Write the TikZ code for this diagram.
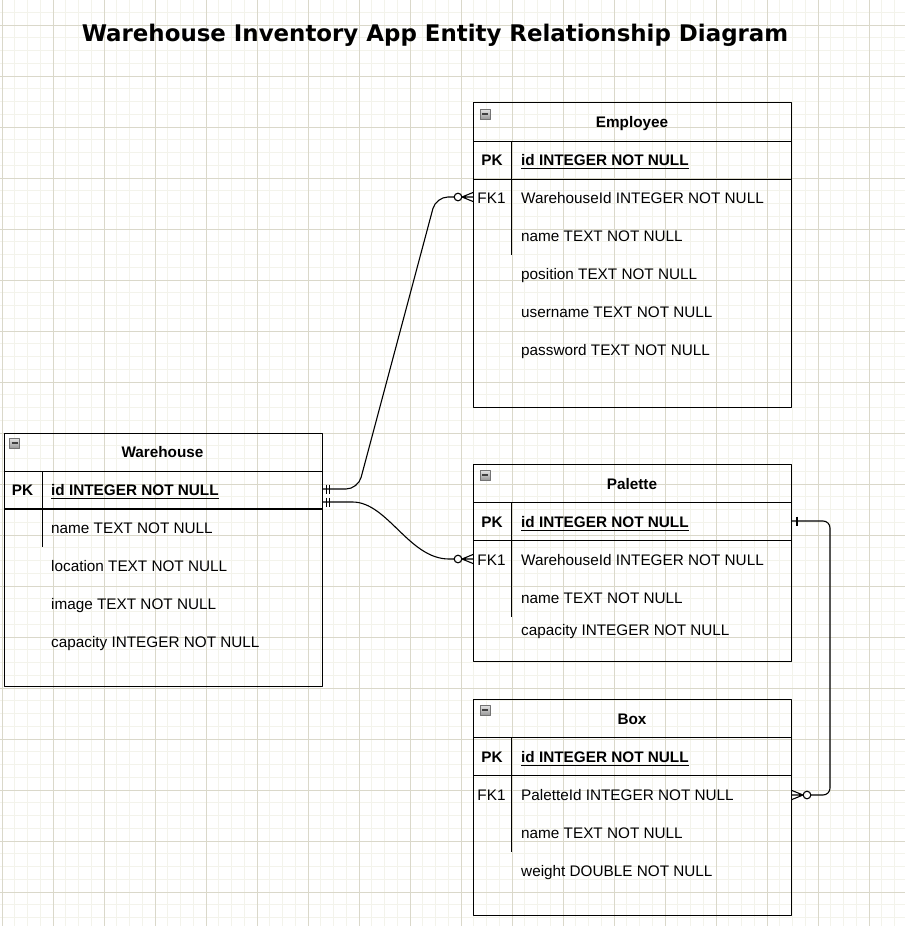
\documentclass[tikz,border=0pt]{standalone}
\usepackage{fontspec}
\setmainfont{Liberation Sans}
\newfontfamily\titlefont{DejaVu Sans}
\usetikzlibrary{positioning}

\definecolor{gridminor}{RGB}{243,243,235}
\definecolor{gridmajor}{RGB}{218,216,202}

% underlined primary key text
\newcommand\pkline[1]{\vtop{\hbox{#1}\kern2.2pt\hrule height 1.2pt}}

\begin{document}
\begin{tikzpicture}[x=1pt,y=-1pt,line join=round,
  every node/.style={font=\fontsize{15.3}{18}\selectfont,inner sep=0pt},
  entity/.style={draw,line width=1pt,minimum width=318pt,anchor=north west},
  head/.style={font=\fontsize{15.3}{18}\selectfont\bfseries,anchor=base},
  keycol/.style={anchor=base},
  field/.style={anchor=base west},
  rowline/.style={line width=1pt},
  link/.style={line width=1.1pt},
  minor line/.style={draw=gridminor,line width=1pt},
  major line/.style={draw=gridmajor,line width=1pt},
  icon/.style={draw=black!55,top color=black!10,bottom color=black!40,minimum size=10pt,
    path picture={\draw[line width=1.3pt,black!75] ([xshift=2pt]path picture bounding box.west) -- ([xshift=-2pt]path picture bounding box.east);}},
  zero many/.pic={\draw[link] (-15,0) circle[radius=3.8pt];
    \draw[link] (0,-4.5) -- (-11,0) -- (0,4.5) (-11,0) -- (0,0);},
  mand one/.pic={\draw[link] (4,-4.5) -- (4,4.5) (7,-4.5) -- (7,4.5);},
  one bar/.pic={\draw[link] (5,-4.5) -- (5,4.5);}]

  % background and grid
  \fill[white] (0,0) rectangle (905,926);
  \useasboundingbox (0,0) rectangle (905,926);
  \foreach \i in {0,...,70} \draw[minor line] ({2+12.75*\i},0) -- ++(0,926);
  \foreach \j in {-1,...,70} \draw[minor line] (0,{25+12.75*\j}) -- ++(905,0);
  \foreach \i in {0,...,17} \draw[major line] ({2+51*\i},0) -- ++(0,926);
  \foreach \j in {0,...,17} \draw[major line] (0,{25+51*\j}) -- ++(905,0);

  \node[font=\titlefont\bfseries\fontsize{22.9}{27}\selectfont,anchor=base] (title) at (435,41)
    {Warehouse Inventory App Entity Relationship Diagram};

  % Employee
  \node[entity,minimum height=305pt] (employee) at (473,102) {};
  \node[icon] at ([xshift=12pt,yshift=-12pt]employee.north west) {};
  \node[head] (emp-title) at (632,127) {Employee};
  \draw[rowline] (employee.north west) ++(0,39) -- ++(318,0);
  \draw[rowline] (employee.north west) ++(0,77) -- ++(318,0);
  \draw[rowline] (employee.north west) ++(38,39) -- ++(0,114);
  \node[head] (emp-pk) at (492,165.5) {PK};
  \node[head,anchor=base west] (emp-id) at (521,165.5) {\pkline{id INTEGER NOT NULL}};
  \node[keycol] (emp-fk) at (491.5,203.5) {FK1};
  \node[field] (emp-whid) at (521,203.5) {WarehouseId INTEGER NOT NULL};
  \foreach \txt [count=\i] in {name TEXT NOT NULL,position TEXT NOT NULL,username TEXT NOT NULL,password TEXT NOT NULL}
    \node[field] (emp-\i) at (521,{203.5+38*\i}) {\txt};

  % Warehouse
  \node[entity,minimum height=253pt] (warehouse) at (3.5,433) {};
  \node[icon] at ([xshift=11pt,yshift=-10pt]warehouse.north west) {};
  \node[head] (wh-title) at (162.5,457) {Warehouse};
  \draw[rowline] (warehouse.north west) ++(0,38) -- ++(318,0);
  \draw[rowline,line width=1.6pt] (warehouse.north west) ++(0,76) -- ++(318,0);
  \draw[rowline] (warehouse.north west) ++(38.5,38) -- ++(0,76);
  \node[head] (wh-pk) at (22.5,495.5) {PK};
  \node[head,anchor=base west] (wh-id) at (51,495.5) {\pkline{id INTEGER NOT NULL}};
  \foreach \txt [count=\i] in {name TEXT NOT NULL,location TEXT NOT NULL,image TEXT NOT NULL,capacity INTEGER NOT NULL}
    \node[field] (wh-\i) at (51,{495.5+38*\i}) {\txt};

  % Palette
  \node[entity,minimum height=197pt] (palette) at (473,464) {};
  \node[icon] at ([xshift=12pt,yshift=-11pt]palette.north west) {};
  \node[head] (pal-title) at (632,489.5) {Palette};
  \draw[rowline] (palette.north west) ++(0,38) -- ++(318,0);
  \draw[rowline] (palette.north west) ++(0,76) -- ++(318,0);
  \draw[rowline] (palette.north west) ++(38,38) -- ++(0,115);
  \node[head] (pal-pk) at (492,527.5) {PK};
  \node[head,anchor=base west] (pal-id) at (521,527.5) {\pkline{id INTEGER NOT NULL}};
  \node[keycol] (pal-fk) at (491.5,565.5) {FK1};
  \node[field] (pal-whid) at (521,565.5) {WarehouseId INTEGER NOT NULL};
  \node[field] (pal-name) at (521,603.5) {name TEXT NOT NULL};
  \node[field] (pal-capacity) at (521,635.5) {capacity INTEGER NOT NULL};

  % Box
  \node[entity,minimum height=216pt] (box) at (473,699) {};
  \node[icon] at ([xshift=12pt,yshift=-11pt]box.north west) {};
  \node[head] (box-title) at (632,724.5) {Box};
  \draw[rowline] (box.north west) ++(0,38) -- ++(318,0);
  \draw[rowline] (box.north west) ++(0,76) -- ++(318,0);
  \draw[rowline] (box.north west) ++(38,38) -- ++(0,115);
  \node[head] (box-pk) at (492,762.5) {PK};
  \node[head,anchor=base west] (box-id) at (521,762.5) {\pkline{id INTEGER NOT NULL}};
  \node[keycol] (box-fk) at (491.5,800.5) {FK1};
  \node[field] (box-palid) at (521,800.5) {PaletteId INTEGER NOT NULL};
  \node[field] (box-name) at (521,838.5) {name TEXT NOT NULL};
  \node[field] (box-weight) at (521,876.5) {weight DOUBLE NOT NULL};

  % relationships
  \draw[link,rounded corners=12pt] ([yshift=-56pt]warehouse.north east) -- (358,489) -- (436,197)
    -- ([xshift=-19pt,yshift=-95pt]employee.north west);
  \pic at ([yshift=-56pt]warehouse.north east) {mand one};
  \pic at ([yshift=-95pt]employee.north west) {zero many};

  \draw[link] ([yshift=-69pt]warehouse.north east) -- ++(30,0) .. controls +(35,0) and +(-40,0)
    .. ([xshift=-24pt,yshift=-95pt]palette.north west) -- ++(5,0);
  \pic at ([yshift=-69pt]warehouse.north east) {mand one};
  \pic at ([yshift=-95pt]palette.north west) {zero many};

  \draw[link,rounded corners=7pt] ([yshift=-57pt]palette.north east) -- (830,521) -- (830,795)
    -- ([xshift=19pt,yshift=-96pt]box.north east);
  \pic at ([yshift=-57pt]palette.north east) {one bar};
  \pic[xscale=-1] at ([yshift=-96pt]box.north east) {zero many};
\end{tikzpicture}
\end{document}
